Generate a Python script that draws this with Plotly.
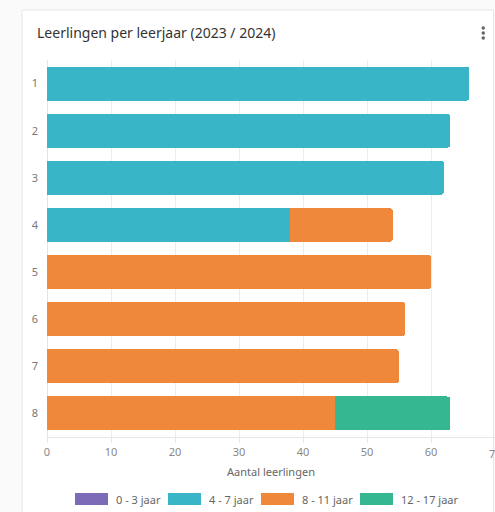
import plotly.graph_objects as go

# ---- data ----
leerjaren = ["1", "2", "3", "4", "5", "6", "7", "8"]
series_names = ["0 - 3 jaar", "4 - 7 jaar", "8 - 11 jaar", "12 - 17 jaar"]
v_0_3 = [None, None, None, None, None, None, None, None]
v_4_7 = [66, 63, 62, 38, None, None, None, None]
v_8_11 = [None, None, None, 16, 60, 56, 55, 45]
v_12_17 = [None, None, None, None, None, None, None, 18]
x_ticks = [0, 10, 20, 30, 40, 50, 60, 70]

colors = ["#7C6BB6", "#38B6C8", "#F0883B", "#35B892"]
values = [v_0_3, v_4_7, v_8_11, v_12_17]

W, H = 495, 512
ML, MR, MT, MB = 47, 0, 60, 75
PW, PH = W - ML - MR, H - MT - MB


def px(x):
    return (x - ML) / PW


def py(y):
    return (H - MB - y) / PH


fig = go.Figure()
for name, vals, col in zip(series_names, values, colors):
    fig.add_trace(go.Bar(
        y=leerjaren, x=vals, name=name, orientation="h",
        marker=dict(color=col, line=dict(width=0)),
        showlegend=False, hoverinfo="x+name",
    ))

shapes = [
    dict(type="rect", xref="paper", yref="paper",
         x0=px(22), x1=px(493.5), y0=py(10), y1=py(530),
         fillcolor="white", line=dict(color="#e6e6e6", width=1), layer="below"),
]
# three-dot menu
for dy in (28, 33, 38):
    shapes.append(dict(type="circle", xref="paper", yref="paper",
                       x0=px(481.5), x1=px(485), y0=py(dy - 1.7), y1=py(dy + 1.7),
                       fillcolor="#666666", line=dict(width=0)))

annotations = []
# last tick label (cut by the card edge in the reference)
annotations.append(dict(xref="x", yref="paper", x=x_ticks[-1], y=py(453),
                        text=str(x_ticks[-1]), showarrow=False,
                        xanchor="center", yanchor="middle",
                        font=dict(size=11, color="#888888")))
# custom legend
leg_x = [75, 168, 261, 360]
leg_y = 499
for name, col, lx in zip(series_names, colors, leg_x):
    shapes.append(dict(type="rect", xref="paper", yref="paper",
                       x0=px(lx), x1=px(lx + 33), y0=py(leg_y - 6), y1=py(leg_y + 6),
                       fillcolor=col, line=dict(width=0)))
    annotations.append(dict(xref="paper", yref="paper", x=px(lx + 39), y=py(leg_y),
                            text=name, showarrow=False, xanchor="left", yanchor="middle",
                            font=dict(size=11, color="#666666")))

fig.update_layout(
    width=W, height=H,
    margin=dict(l=ML, r=MR, t=MT, b=MB),
    barmode="stack",
    bargap=0.28,
    barcornerradius=3,
    paper_bgcolor="#fafafa",
    plot_bgcolor="rgba(0,0,0,0)",
    font=dict(family="Noto Sans", color="#666666"),
    title=dict(text="Leerlingen per leerjaar (2023 / 2024)",
               x=37 / W, xanchor="left", xref="container",
               y=1 - 33 / H, yanchor="middle", yref="container",
               font=dict(size=14, color="#333333")),
    xaxis=dict(range=[0, 70], tickvals=x_ticks, showgrid=True, gridcolor="#ececec",
               zeroline=True, zerolinecolor="#e4e4e4", zerolinewidth=1,
               showline=True, linecolor="#e8e8e8", linewidth=1,
               ticks="outside", ticklen=5, tickcolor="#e8e8e8",
               tickfont=dict(size=11, color="#888888"),
               title=dict(text="Aantal leerlingen", standoff=10,
                          font=dict(size=11, color="#666666"))),
    yaxis=dict(type="category", autorange="reversed", showgrid=False,
               ticks="", ticklabelstandoff=8,
               tickfont=dict(size=11, color="#777777")),
    shapes=shapes,
    annotations=annotations,
)

fig.write_html(
    "out.html",
    config={"displayModeBar": False},
    post_script="document.body.style.margin='0';document.body.style.overflow='hidden';",
)
